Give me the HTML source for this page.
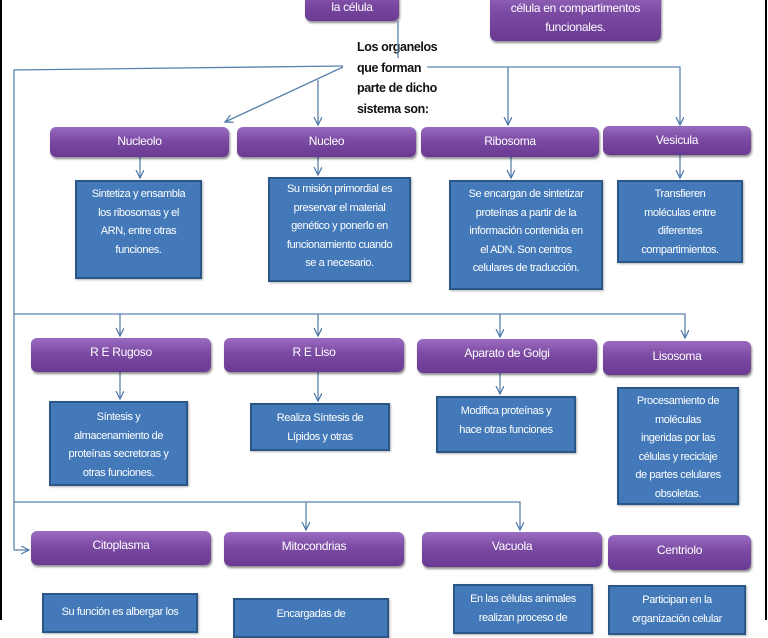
<!DOCTYPE html>
<html><head><meta charset="utf-8">
<style>
*{margin:0;padding:0;box-sizing:border-box}
body{width:768px;height:620px;overflow:hidden;background:#fff;position:relative;font-family:"Liberation Sans",sans-serif}
.p{position:absolute;border-radius:6px;background:linear-gradient(#9a6cc0,#7b4aa3 45%,#6a3a92);box-shadow:1px 2px 2px rgba(0,0,0,.45);color:#fff;font-size:12px;text-align:center;padding-top:7px;letter-spacing:-.3px}
.b{position:absolute;background:#4379b9;border:2px solid #2b5688;color:#fff;font-size:11px;line-height:18.5px;text-align:center;letter-spacing:-.4px;box-shadow:1px 1px 2px rgba(0,0,0,.3)}
.t{position:absolute;font-size:12.5px;font-weight:bold;color:#111;line-height:20.5px;letter-spacing:-.4px}
svg{position:absolute;left:0;top:0}
</style></head><body>
<div style="position:absolute;left:0;top:0;width:2px;height:620px;background:#000"></div>
<div style="position:absolute;left:765px;top:0;width:2px;height:620px;background:#000"></div>

<div class="p" style="left:305px;top:-12px;width:94px;height:33px;padding-top:12px">la célula</div>
<div class="p" style="left:490px;top:-10px;width:171px;height:51px;padding-top:9px;line-height:19px">célula en compartimentos<br>funcionales.</div>
<div class="t" style="left:357px;top:37px">Los organelos<br>que forman<br>parte de dicho<br>sistema son:</div>

<svg width="768" height="620">
<defs><marker id="a" markerWidth="10" markerHeight="10" refX="8" refY="4" orient="auto" markerUnits="userSpaceOnUse"><path d="M0,0 L8,4 L0,8" fill="none" stroke="#4a76a8" stroke-width="1.2"/></marker></defs>
<g stroke="#5a82ad" stroke-width="1.3" fill="none">
<line x1="398" y1="21" x2="398" y2="58"/>
<polyline points="14,550 14,70 343,66"/>
<line x1="343" y1="67" x2="225" y2="122" marker-end="url(#a)"/>
<line x1="318" y1="80" x2="318" y2="125" marker-end="url(#a)"/>
<polyline points="427,67 680,67 680,125" marker-end="url(#a)"/>
<line x1="508" y1="67" x2="508" y2="125" marker-end="url(#a)"/>
<line x1="14" y1="550" x2="29" y2="550" marker-end="url(#a)"/>
<line x1="140" y1="157" x2="140" y2="178" marker-end="url(#a)"/>
<line x1="318" y1="157" x2="318" y2="175" marker-end="url(#a)"/>
<line x1="511" y1="157" x2="511" y2="178" marker-end="url(#a)"/>
<line x1="680" y1="155" x2="680" y2="178" marker-end="url(#a)"/>
<polyline points="14,314 685,314 685,338" marker-end="url(#a)"/>
<line x1="120" y1="314" x2="120" y2="336" marker-end="url(#a)"/>
<line x1="318" y1="314" x2="318" y2="336" marker-end="url(#a)"/>
<line x1="500" y1="314" x2="500" y2="337" marker-end="url(#a)"/>
<line x1="120" y1="372" x2="120" y2="399" marker-end="url(#a)"/>
<line x1="318" y1="372" x2="318" y2="401" marker-end="url(#a)"/>
<line x1="500" y1="373" x2="500" y2="394" marker-end="url(#a)"/>
<polyline points="14,502 520,502 520,530" marker-end="url(#a)"/>
<line x1="306" y1="502" x2="306" y2="530" marker-end="url(#a)"/>
</g></svg>

<div class="p" style="left:50px;top:127px;width:179px;height:30px">Nucleolo</div>
<div class="p" style="left:237px;top:127px;width:179px;height:30px">Nucleo</div>
<div class="p" style="left:421px;top:127px;width:178px;height:30px">Ribosoma</div>
<div class="p" style="left:603px;top:126px;width:148px;height:29px">Vesicula</div>

<div class="b" style="left:75px;top:180px;width:127px;height:99px;padding-top:3px">Sintetiza y ensambla<br>los ribosomas y el<br>ARN, entre otras<br>funciones.</div>
<div class="b" style="left:268px;top:177px;width:143px;height:105px;padding-top:1px">Su misión primordial es<br>preservar el material<br>genético y ponerlo en<br>funcionamiento cuando<br>se a necesario.</div>
<div class="b" style="left:449px;top:180px;width:154px;height:110px;padding-top:3px">Se encargan de sintetizar<br>proteínas a partir de la<br>información contenida en<br>el ADN. Son centros<br>celulares de traducción.</div>
<div class="b" style="left:617px;top:180px;width:126px;height:83px;padding-top:3px">Transfieren<br>moléculas entre<br>diferentes<br>compartimientos.</div>

<div class="p" style="left:31px;top:338px;width:180px;height:34px">R E Rugoso</div>
<div class="p" style="left:224px;top:338px;width:180px;height:34px">R E Liso</div>
<div class="p" style="left:417px;top:339px;width:180px;height:34px">Aparato de Golgi</div>
<div class="p" style="left:603px;top:341px;width:148px;height:34px;padding-top:8px">Lisosoma</div>

<div class="b" style="left:49px;top:401px;width:139px;height:85px;padding-top:5px">Síntesis y<br>almacenamiento de<br>proteínas secretoras y<br>otras funciones.</div>
<div class="b" style="left:250px;top:403px;width:140px;height:48px;padding-top:4px">Realiza Síntesis de<br>Lípidos y otras</div>
<div class="b" style="left:436px;top:396px;width:140px;height:57px;padding-top:4px">Modifica proteínas y<br>hace otras funciones</div>
<div class="b" style="left:617px;top:387px;width:122px;height:118px;padding-top:3px">Procesamiento de<br>moléculas<br>ingeridas por las<br>células y reciclaje<br>de partes celulares<br>obsoletas.</div>

<div class="p" style="left:31px;top:531px;width:180px;height:34px">Citoplasma</div>
<div class="p" style="left:224px;top:532px;width:180px;height:34px">Mitocondrias</div>
<div class="p" style="left:422px;top:532px;width:180px;height:35px">Vacuola</div>
<div class="p" style="left:608px;top:535px;width:143px;height:35px;padding-top:8px">Centriolo</div>

<div class="b" style="left:42px;top:593px;width:156px;height:40px;padding-top:8px">Su función es albergar los</div>
<div class="b" style="left:233px;top:598px;width:156px;height:40px;padding-top:5px">Encargadas de</div>
<div class="b" style="left:453px;top:584px;width:140px;height:50px;padding-top:4px">En las células animales<br>realizan proceso de</div>
<div class="b" style="left:608px;top:585px;width:138px;height:50px;padding-top:4px">Participan en la<br>organización celular</div>
</body></html>
